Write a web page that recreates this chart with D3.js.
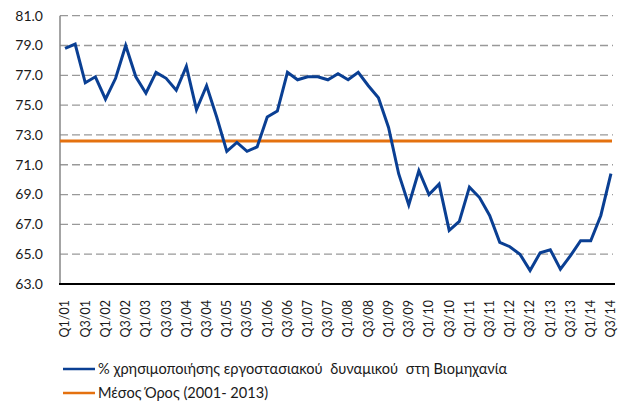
<!DOCTYPE html>
<html>
<head>
<meta charset="utf-8">
<script src="https://cdn.jsdelivr.net/npm/d3@7"></script>
<style>
  body { margin: 0; background: #fff; }
  text { font-family: Lato, "Open Sans", sans-serif; fill: #1a1a1a; }
</style>
</head>
<body>
<svg id="canvas"></svg>
<script>
const svg = d3.select("#canvas")
  .attr("width", 628)
  .attr("height", 406);

// quarters Q1/01 .. Q3/14
const years = d3.range(1, 15);
const quarters = years.flatMap(y => [1, 2, 3, 4].map(q => `Q${q}/${String(y).padStart(2, "0")}`)).slice(0, 55);

// capacity utilisation (%)
const utilisation = [
  78.8, 79.1, 76.5, 76.9, 75.4, 76.8, 79.0, 76.9,
  75.8, 77.2, 76.8, 76.0, 77.6, 74.7, 76.3, 74.2,
  71.9, 72.5, 71.9, 72.2, 74.2, 74.6, 77.2, 76.7,
  76.9, 76.9, 76.7, 77.1, 76.7, 77.2, 76.3, 75.5,
  73.5, 70.4, 68.3, 70.6, 69.0, 69.7, 66.6, 67.2,
  69.5, 68.8, 67.6, 65.8, 65.5, 65.0, 63.9, 65.1,
  65.3, 64.0, 64.9, 65.9, 65.9, 67.6, 70.4
];
const average = 72.6;

const yTicks = [63, 65, 67, 69, 71, 73, 75, 77, 79, 81];
const legendLabels = [
  "% χρησιμοποιήσης εργοστασιακού  δυναμικού  στη Βιομηχανία",
  "Μέσος Όρος (2001- 2013)"
];

const blue = "#0a3f93";
const orange = "#e4710f";

const plotLeft = 60, plotRight = 615, plotTop = 15.7, plotBottom = 284;

const x = d3.scalePoint()
  .domain(quarters)
  .range([plotLeft, plotRight + 1])
  .padding(0.5);

const y = d3.scaleLinear()
  .domain([63, 81])
  .range([plotBottom, plotTop]);

// gridlines
svg.append("g")
  .selectAll("line")
  .data(yTicks.filter(d => d > 63))
  .join("line")
  .attr("x1", plotLeft)
  .attr("x2", 613)
  .attr("y1", d => y(d))
  .attr("y2", d => y(d))
  .attr("stroke", "#999")
  .attr("stroke-width", 1.3)
  .attr("stroke-dasharray", "8,4");

// y labels
svg.append("g")
  .selectAll("text")
  .data(yTicks)
  .join("text")
  .attr("x", 43)
  .attr("y", d => y(d))
  .attr("dy", "0.35em")
  .attr("text-anchor", "end")
  .style("font-size", "14px")
  .text(d => d.toFixed(1));

// left axis
svg.append("line")
  .attr("x1", plotLeft).attr("x2", plotLeft)
  .attr("y1", plotTop).attr("y2", plotBottom)
  .attr("stroke", "#868686")
  .attr("stroke-width", 1.5);

// average line
svg.append("line")
  .attr("x1", plotLeft)
  .attr("x2", 612)
  .attr("y1", y(average))
  .attr("y2", y(average))
  .attr("stroke", orange)
  .attr("stroke-width", 3);

// main series
const line = d3.line()
  .x((d, i) => x(quarters[i]))
  .y(d => y(d));

svg.append("path")
  .datum(utilisation)
  .attr("d", line)
  .attr("fill", "none")
  .attr("stroke", blue)
  .attr("stroke-width", 3)
  .attr("stroke-linejoin", "miter");

// bottom axis
svg.append("line")
  .attr("x1", plotLeft - 1).attr("x2", plotRight)
  .attr("y1", plotBottom).attr("y2", plotBottom)
  .attr("stroke", "#000")
  .attr("stroke-width", 2);

// x labels, every second quarter
svg.append("g")
  .selectAll("text")
  .data(quarters.filter((d, i) => i % 2 === 0))
  .join("text")
  .attr("transform", d => `translate(${x(d)},300) rotate(-90)`)
  .attr("dy", "0.35em")
  .attr("text-anchor", "end")
  .style("font-size", "12.5px")
  .text(d => d);

// legend
const legend = svg.append("g")
  .selectAll("g")
  .data(legendLabels)
  .join("g")
  .attr("transform", (d, i) => `translate(63,${369 + i * 24})`);

legend.append("line")
  .attr("x1", 0).attr("x2", 32)
  .attr("stroke", (d, i) => i === 0 ? blue : orange)
  .attr("stroke-width", 2.5);

legend.append("text")
  .attr("x", 35)
  .attr("dy", "0.35em")
  .style("font-size", "14.6px")
  .style("white-space", "pre")
  .text(d => d);
</script>
</body>
</html>
